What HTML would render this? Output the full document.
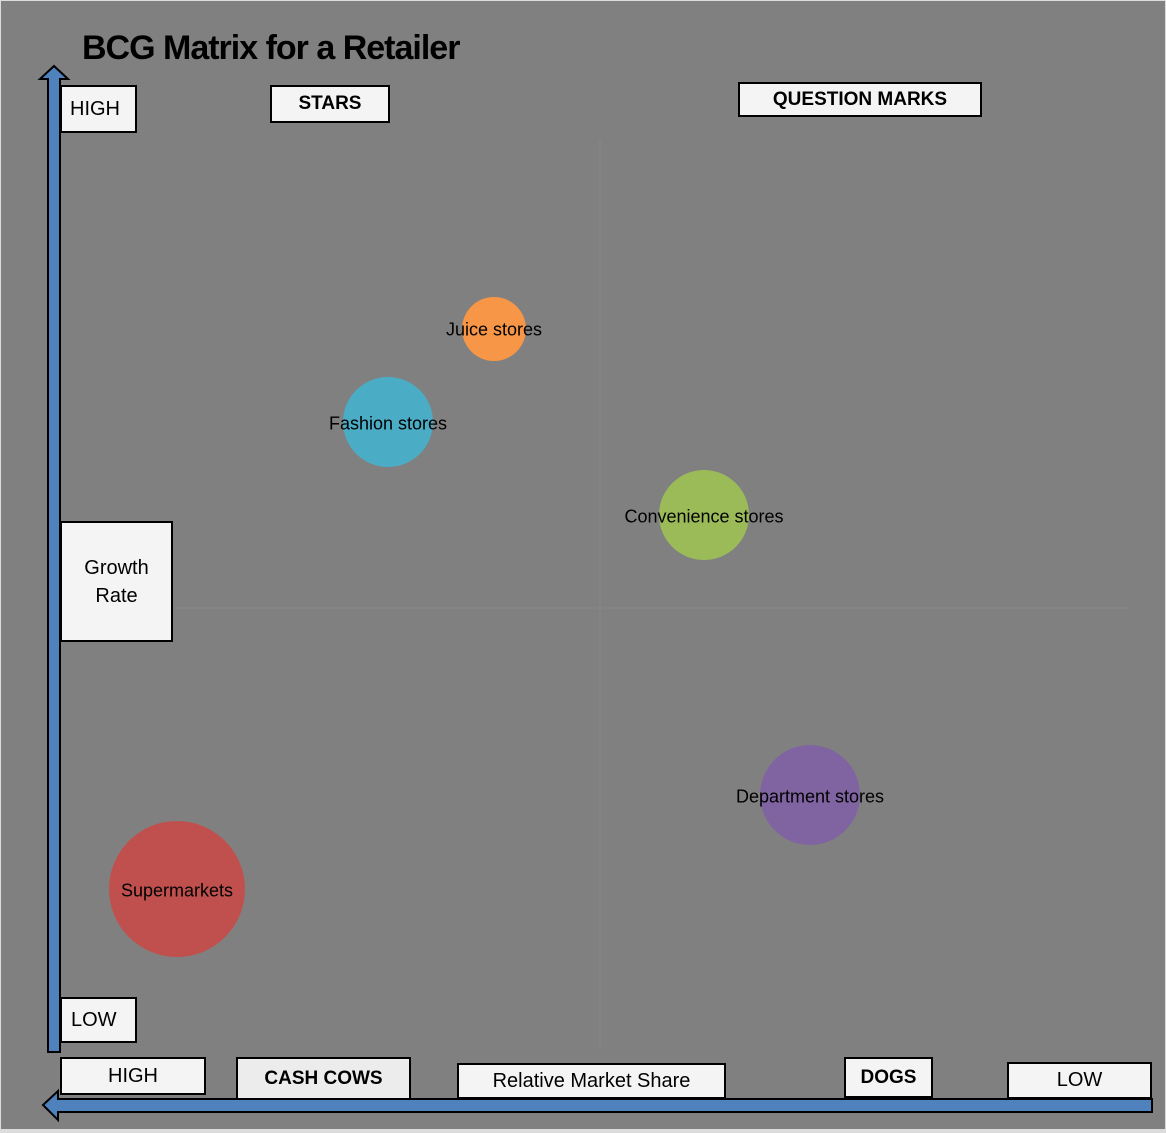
<!DOCTYPE html>
<html><head><style>
body{margin:0;width:1166px;height:1133px;overflow:hidden;background:#dcdcdc;font-family:"Liberation Sans",sans-serif}
#c{position:absolute;left:1px;top:1px;width:1164px;height:1128px;background:#808080}
.b{position:absolute;background:#f4f4f4;border:2px solid #000;box-sizing:border-box;display:flex;align-items:center;justify-content:center;font-size:20px;color:#000}
.bd{font-weight:bold;font-size:19px}
.t{position:absolute;font-size:18px;color:#000;white-space:nowrap;transform:translate(-50%,-50%)}
</style></head><body>
<div id="c"></div>
<svg width="1166" height="1133" style="position:absolute;left:0;top:0">
<line x1="600" y1="140" x2="600" y2="1050" stroke="#878787" stroke-width="1"/>
<line x1="175" y1="608" x2="1130" y2="608" stroke="#878787" stroke-width="1"/>
<circle cx="494" cy="329" r="32" fill="#f79646"/>
<circle cx="388" cy="422" r="45" fill="#4bacc6"/>
<circle cx="704" cy="515" r="45" fill="#9bbb59"/>
<circle cx="810" cy="795" r="50" fill="#8064a2"/>
<circle cx="177" cy="889" r="68" fill="#c0504d"/>
<polygon points="54,66 68,79 60,79 60,1052 48,1052 48,79 40,79" fill="#4f81bd" stroke="#000" stroke-width="2"/>
<polygon points="43,1105 58,1091 58,1099 1152,1099 1152,1112 58,1112 58,1120" fill="#4f81bd" stroke="#000" stroke-width="2"/>
</svg>
<div style="position:absolute;left:82px;top:29px;font-size:34px;font-weight:bold;letter-spacing:-1px">BCG Matrix for a Retailer</div>
<div class="b" style="left:60px;top:85px;width:77px;height:48px;justify-content:flex-start;padding-left:8px">HIGH</div>
<div class="b bd" style="left:270px;top:85px;width:120px;height:38px">STARS</div>
<div class="b bd" style="left:738px;top:82px;width:244px;height:35px">QUESTION MARKS</div>
<div class="b" style="left:60px;top:521px;width:113px;height:121px;text-align:center;line-height:28px">Growth<br>Rate</div>
<div class="b" style="left:60px;top:997px;width:77px;height:46px;justify-content:flex-start;padding-left:9px">LOW</div>
<div class="b" style="left:60px;top:1057px;width:146px;height:38px">HIGH</div>
<div class="b bd" style="left:236px;top:1057px;width:175px;height:43px;background:#ececec">CASH COWS</div>
<div class="b" style="left:457px;top:1063px;width:269px;height:36px">Relative Market Share</div>
<div class="b bd" style="left:844px;top:1057px;width:89px;height:41px">DOGS</div>
<div class="b" style="left:1007px;top:1062px;width:145px;height:37px">LOW</div>
<div class="t" style="left:494px;top:330px">Juice stores</div>
<div class="t" style="left:388px;top:424px">Fashion stores</div>
<div class="t" style="left:704px;top:517px">Convenience stores</div>
<div class="t" style="left:810px;top:797px">Department stores</div>
<div class="t" style="left:177px;top:891px">Supermarkets</div>
</body></html>
